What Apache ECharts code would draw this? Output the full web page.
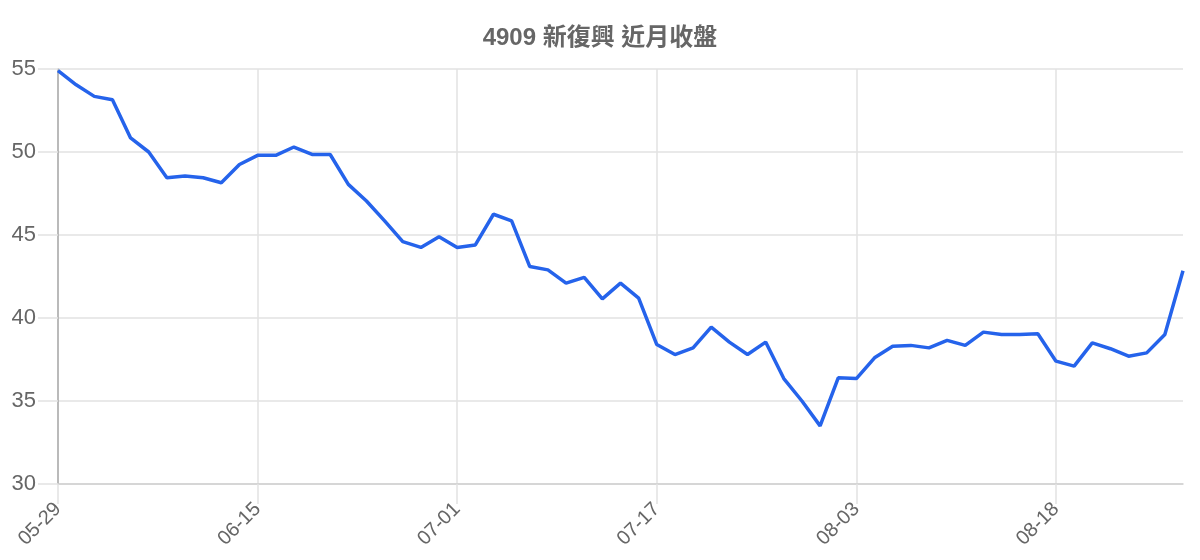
<!DOCTYPE html>
<html>
<head>
<meta charset="utf-8">
<script src="https://cdn.jsdelivr.net/npm/echarts@6/dist/echarts.min.js"></script>
<style>
  html, body { margin: 0; padding: 0; background: #fff; }
  #chart { width: 1200px; height: 560px; }
</style>
</head>
<body>
<div id="chart"></div>
<script>
// closing prices
const dates = [
  "05-29", "06-01", "06-02", "06-03", "06-04", "06-05", "06-08", "06-09", "06-10", "06-11", "06-12",
  "06-15", "06-16", "06-17", "06-18", "06-19", "06-20", "06-22", "06-23", "06-24", "06-29", "06-30",
  "07-01", "07-02", "07-06", "07-07", "07-08", "07-09", "07-10", "07-13", "07-14", "07-15", "07-16",
  "07-17", "07-20", "07-21", "07-22", "07-23", "07-24", "07-27", "07-28", "07-29", "07-30", "07-31",
  "08-03", "08-04", "08-05", "08-06", "08-07", "08-10", "08-11", "08-12", "08-13", "08-14", "08-17",
  "08-18", "08-19", "08-20", "08-21", "08-24", "08-25", "08-26", "08-27",
];
const closes = [
  54.9, 54.05, 53.35, 53.15, 50.85, 50.0, 48.45, 48.55, 48.45, 48.15, 49.25,
  49.8, 49.8, 50.3, 49.85, 49.85, 48.05, 47.05, 45.85, 44.6, 44.25, 44.9,
  44.25, 44.4, 46.25, 45.85, 43.1, 42.9, 42.1, 42.45, 41.15, 42.1, 41.2,
  38.4, 37.8, 38.2, 39.45, 38.55, 37.8, 38.55, 36.35, 35.0, 33.5, 36.4,
  36.35, 37.6, 38.3, 38.35, 38.2, 38.65, 38.35, 39.15, 39.0, 39.0, 39.05,
  37.4, 37.1, 38.5, 38.15, 37.7, 37.9, 39.0, 42.85,
];
const yTicks = { min: 30, max: 55, step: 5 };

const chart = echarts.init(document.getElementById("chart"), null, { renderer: "canvas" });

chart.setOption({
  animation: false,
  backgroundColor: "#fff",
  title: {
    text: "4909 新復興 近月收盤",
    left: "center",
    top: 21,
    textStyle: {
      color: "#666",
      fontSize: 24,
      fontWeight: "bold",
      fontFamily: "'Liberation Sans', 'Noto Sans CJK TC', sans-serif",
    },
  },
  grid: { left: 58, right: 17, top: 69, bottom: 76, containLabel: false },
  xAxis: {
    type: "category",
    data: dates,
    boundaryGap: false,
    axisLine: { lineStyle: { color: "#cfcfcf", width: 1.5 } },
    axisTick: { show: true, interval: 10, length: 20, lineStyle: { color: "#e2e2e2", width: 1.5 } },
    splitLine: { show: true, interval: 10, lineStyle: { color: "#e2e2e2", width: 1.5 } },
    axisLabel: {
      interval: 10,
      rotate: 45,
      margin: 22,
      color: "#666",
      fontSize: 20,
      fontFamily: "'Liberation Sans', Arial, sans-serif",
    },
  },
  yAxis: {
    type: "value",
    min: yTicks.min,
    max: yTicks.max,
    interval: yTicks.step,
    axisLine: { show: true, lineStyle: { color: "#aaa", width: 1.5 } },
    axisTick: { show: true, length: 20, lineStyle: { color: "#e2e2e2", width: 1.5 } },
    splitLine: { show: true, lineStyle: { color: "#e2e2e2", width: 1.5 } },
    axisLabel: {
      margin: 22,
      color: "#666",
      fontSize: 22,
      fontFamily: "'Liberation Sans', Arial, sans-serif",
    },
  },
  series: [
    {
      type: "line",
      data: closes,
      showSymbol: false,
      lineStyle: { color: "#2563eb", width: 3.5 },
      itemStyle: { color: "#2563eb" },
    },
  ],
});
</script>
</body>
</html>
